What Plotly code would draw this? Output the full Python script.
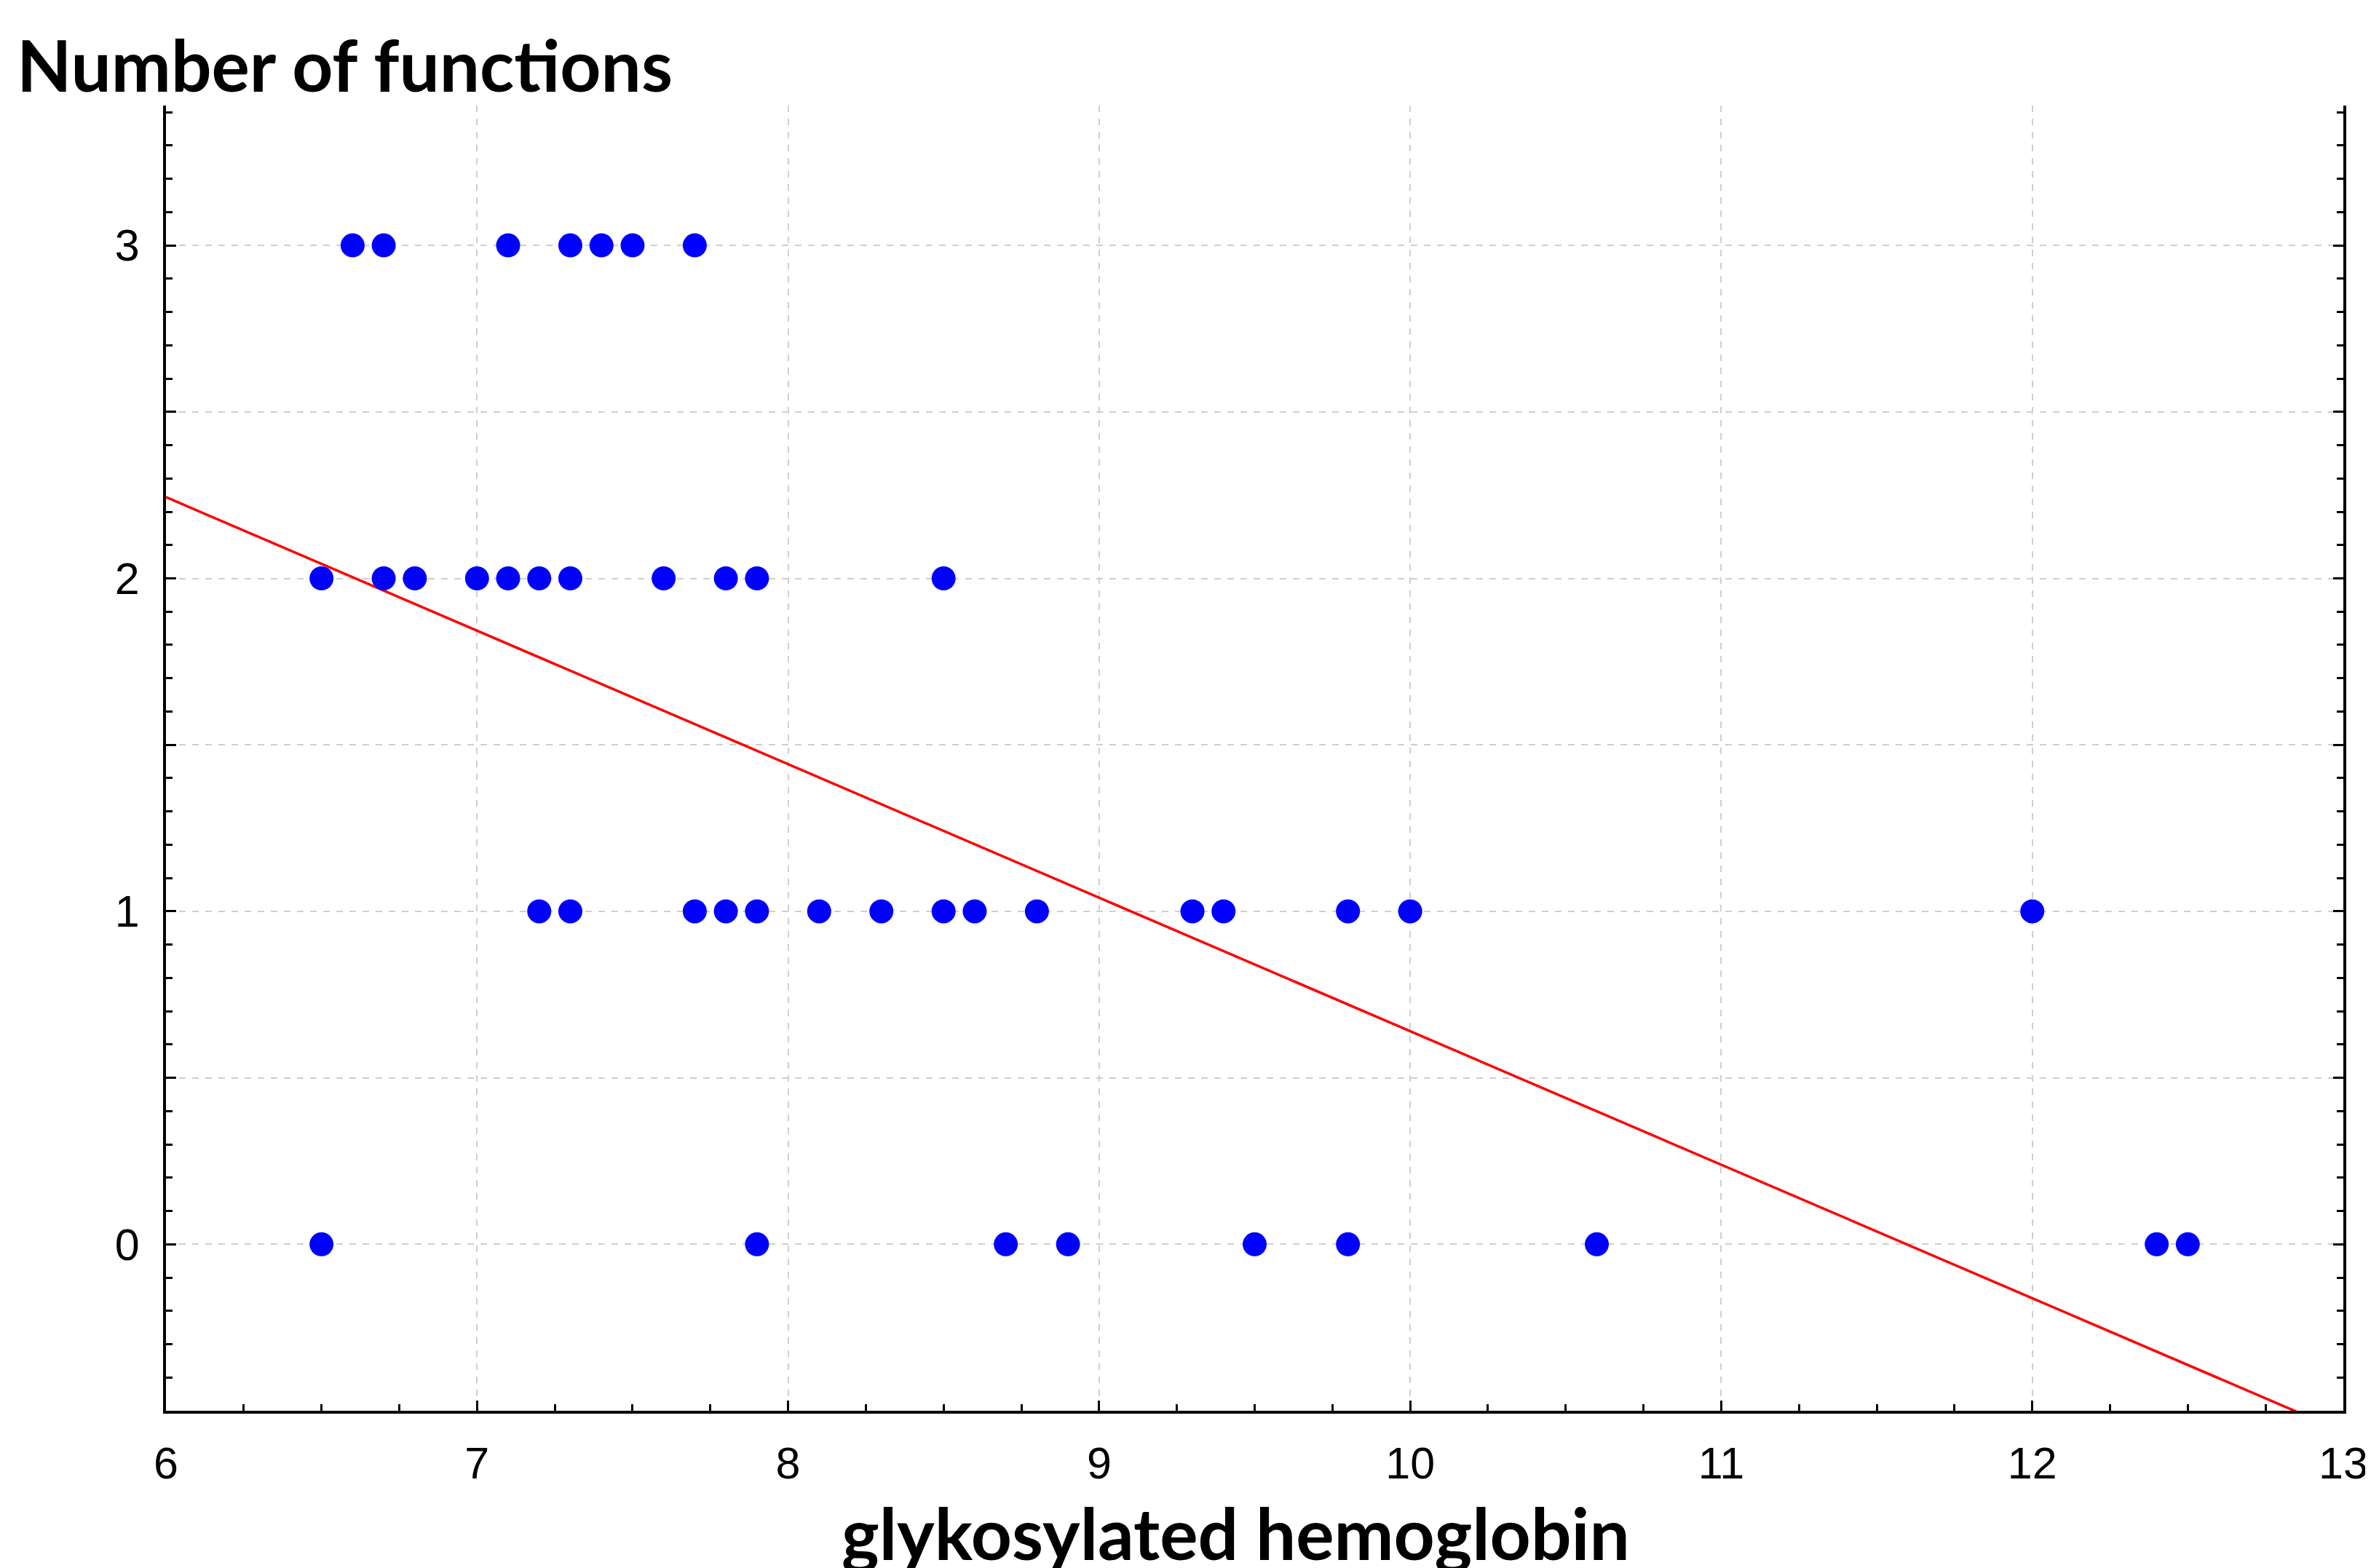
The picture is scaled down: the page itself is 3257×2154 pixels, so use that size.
import plotly.graph_objects as go

# ---- data ----
hba1c_3 = [6.6, 6.7, 7.1, 7.3, 7.4, 7.5, 7.7]
hba1c_2 = [6.5, 6.7, 6.8, 7.0, 7.1, 7.2, 7.3, 7.6, 7.8, 7.9, 8.5]
hba1c_1 = [7.2, 7.3, 7.7, 7.8, 7.9, 8.1, 8.3, 8.5, 8.6, 8.8, 9.3, 9.4, 9.8, 10.0, 12.0]
hba1c_0 = [6.5, 7.9, 8.7, 8.9, 9.5, 9.8, 10.6, 12.4, 12.5]

fit_intercept = 4.65
fit_slope = -0.401
fit_x = [6.0, 13.0]

x_ticks = [6, 7, 8, 9, 10, 11, 12, 13]
y_tickvals = [0, 0.5, 1, 1.5, 2, 2.5, 3]
y_ticktext = ["0", "", "1", "", "2", "", "3"]

title_y = "Number of functions"
title_x = "glykosylated hemoglobin"

# ---- build ----
xs = hba1c_3 + hba1c_2 + hba1c_1 + hba1c_0
ys = [3] * len(hba1c_3) + [2] * len(hba1c_2) + [1] * len(hba1c_1) + [0] * len(hba1c_0)
fit_y = [fit_intercept + fit_slope * v for v in fit_x]

W, H = 3257, 2154
L, R, T, B = 220, 34, 137, 224
PW, PH = W - L - R, H - T - B

fig = go.Figure()
fig.add_trace(go.Scatter(x=fit_x, y=fit_y, mode="lines",
                         line=dict(color="#FF0000", width=3.5), showlegend=False,
                         hoverinfo="skip"))
fig.add_trace(go.Scatter(x=xs, y=ys, mode="markers",
                         marker=dict(color="#0000FF", size=33, line=dict(width=0)),
                         showlegend=False))
# invisible trace to activate right-hand axis
fig.add_trace(go.Scatter(x=[6], y=[0], yaxis="y2", mode="markers",
                         marker=dict(opacity=0), showlegend=False, hoverinfo="skip"))

tick_font = dict(family="Liberation Sans, Arial, sans-serif", size=61, color="black")
title_font = dict(family="Lato, Open Sans, sans-serif", size=98, color="black")

yr = [-0.5, 3.42]

fig.update_layout(
    width=W, height=H,
    margin=dict(l=L, r=R, t=T, b=B, pad=0),
    paper_bgcolor="white", plot_bgcolor="white",
    xaxis=dict(range=[6, 13], tickvals=x_ticks, ticks="inside", ticklen=14, tickwidth=3,
               tickcolor="black", showline=True, linecolor="black", linewidth=4,
               showgrid=True, gridcolor="#cfcfcf", gridwidth=1.5, griddash="dash",
               zeroline=False, tickfont=tick_font, ticklabelstandoff=16,
               ticklabeloverflow="allow",
               minor=dict(dtick=0.25, tick0=6, ticks="inside", ticklen=9, tickwidth=3,
                          tickcolor="black", showgrid=False)),
    yaxis=dict(range=yr, tickvals=y_tickvals, ticktext=y_ticktext, ticks="inside",
               ticklen=14, tickwidth=3, tickcolor="black", showline=True,
               linecolor="black", linewidth=4, showgrid=True, gridcolor="#cfcfcf",
               gridwidth=1.5, griddash="dash", zeroline=False, tickfont=tick_font,
               ticklabelstandoff=20,
               minor=dict(dtick=0.1, tick0=0, ticks="inside", ticklen=9, tickwidth=3,
                          tickcolor="black", showgrid=False)),
    yaxis2=dict(range=yr, overlaying="y", side="right", anchor="x",
                tickvals=y_tickvals, ticks="inside", ticklen=14, tickwidth=3,
                tickcolor="black", showline=True, linecolor="black", linewidth=4,
                showgrid=False, zeroline=False, showticklabels=False,
                minor=dict(dtick=0.1, tick0=0, ticks="inside", ticklen=9, tickwidth=3,
                           tickcolor="black", showgrid=False)),
    annotations=[
        dict(text="<b>" + title_y + "</b>", xref="paper", yref="paper",
             x=(12 - L) / PW, y=1 + (T - 141) / PH,
             xanchor="left", yanchor="bottom", showarrow=False, font=title_font),
        dict(text="<b>" + title_x + "</b>", xref="paper", yref="paper",
             x=(1695 - L) / PW, y=-(2097 - (H - B)) / PH,
             xanchor="center", yanchor="middle", showarrow=False, font=title_font),
    ],
)

fig.write_html("out.html")
